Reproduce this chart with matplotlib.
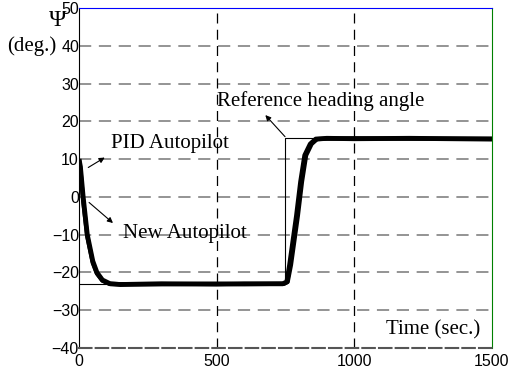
import matplotlib.pyplot as plt

# Data
t_pid = [0, 5, 15, 30, 50, 65, 85, 113, 150, 300, 500, 600, 740, 755, 765, 790, 805, 820, 840, 860, 900, 1000, 1200, 1500]
psi_pid = [10, 8, 0, -10, -17, -20, -22, -23, -23.2, -23, -23.1, -23, -23, -22.5, -18, -5, 4, 11, 14, 15.3, 15.5, 15.4, 15.5, 15.3]
t_new = [0, 5, 15, 30, 50, 65, 85, 110, 150, 300, 500, 600, 745, 758, 770, 795, 810, 825, 845, 865, 900, 1000, 1200, 1500]
psi_new = [10, 7.5, -1, -10.5, -17.5, -20.3, -22.2, -23, -23.1, -23.1, -23, -23.1, -23, -22.5, -18, -5, 4, 11, 14, 15.3, 15.4, 15.5, 15.4, 15.4]
t_ref = [0, 750, 750, 1500]
psi_ref = [-23, -23, 15.5, 15.5]

xticks = [0, 500, 1000, 1500]
yticks = [-40, -30, -20, -10, 0, 10, 20, 30, 40, 50]

serif = "Liberation Serif"
sans = "Liberation Sans"


def main() -> None:
    fig = plt.figure(figsize=(5.16, 3.73), dpi=100)
    ax = fig.add_axes([79 / 516, 1 - 348 / 373, (492 - 79) / 516, (348 - 8) / 373])

    ax.plot(t_ref, psi_ref, color="black", lw=0.8)
    ax.plot(t_pid, psi_pid, color="black", lw=3.5, solid_capstyle="butt")
    ax.plot(t_new, psi_new, color="black", lw=3.0, solid_capstyle="butt")

    ax.set_xlim(0, 1500)
    ax.set_ylim(-40, 50)
    ax.set_xticks(xticks)
    ax.set_yticks(yticks)
    ax.tick_params(direction="in", length=0, pad=0, labelsize=11.5)
    for lab in ax.get_xticklabels() + ax.get_yticklabels():
        lab.set_fontfamily(sans)
    ax.tick_params(axis="x", pad=4)

    for y in yticks[1:-1]:
        ax.axhline(y, color="#777777", lw=1.1, ls=(0, (8, 5)), zorder=0)
    for x in xticks[1:-1]:
        ax.axvline(x, color="black", lw=0.9, ls=(0, (8, 5)), zorder=0)

    ax.spines["top"].set_color("blue")
    ax.spines["right"].set_color("green")
    ax.spines["left"].set_color("black")
    ax.spines["bottom"].set_color("#555555")
    ax.spines["bottom"].set_linestyle((0, (6, 2)))
    ax.spines["bottom"].set_linewidth(1.5)

    arrow = dict(arrowstyle="-|>", color="black", lw=0.8, mutation_scale=8)
    ax.text(118, 14.2, "PID Autopilot", fontsize=15, fontfamily=serif, va="center", ha="left")
    ax.annotate("", xy=(102, 10.8), xytext=(25, 7.4), arrowprops=arrow)
    ax.text(158, -9.6, "New Autopilot", fontsize=15, fontfamily=serif, va="center", ha="left")
    ax.annotate("", xy=(131, -7.4), xytext=(29, -1.0), arrowprops=arrow)
    ax.text(500, 25.3, "Reference heading angle", fontsize=15, fontfamily=serif, va="center", ha="left")
    ax.annotate("", xy=(670, 22.2), xytext=(755, 15.4), arrowprops=arrow)
    ax.text(1458, -35.3, "Time (sec.)", fontsize=15, fontfamily=serif, va="center", ha="right")

    fig.text(49 / 516, 1 - 20 / 373, "Ψ", fontsize=17, fontfamily=serif, va="center", ha="left")
    fig.text(7 / 516, 1 - 46 / 373, "(deg.)", fontsize=15, fontfamily=serif, va="center", ha="left")

    fig.savefig("out.png", dpi=100)


if __name__ == "__main__":
    main()
